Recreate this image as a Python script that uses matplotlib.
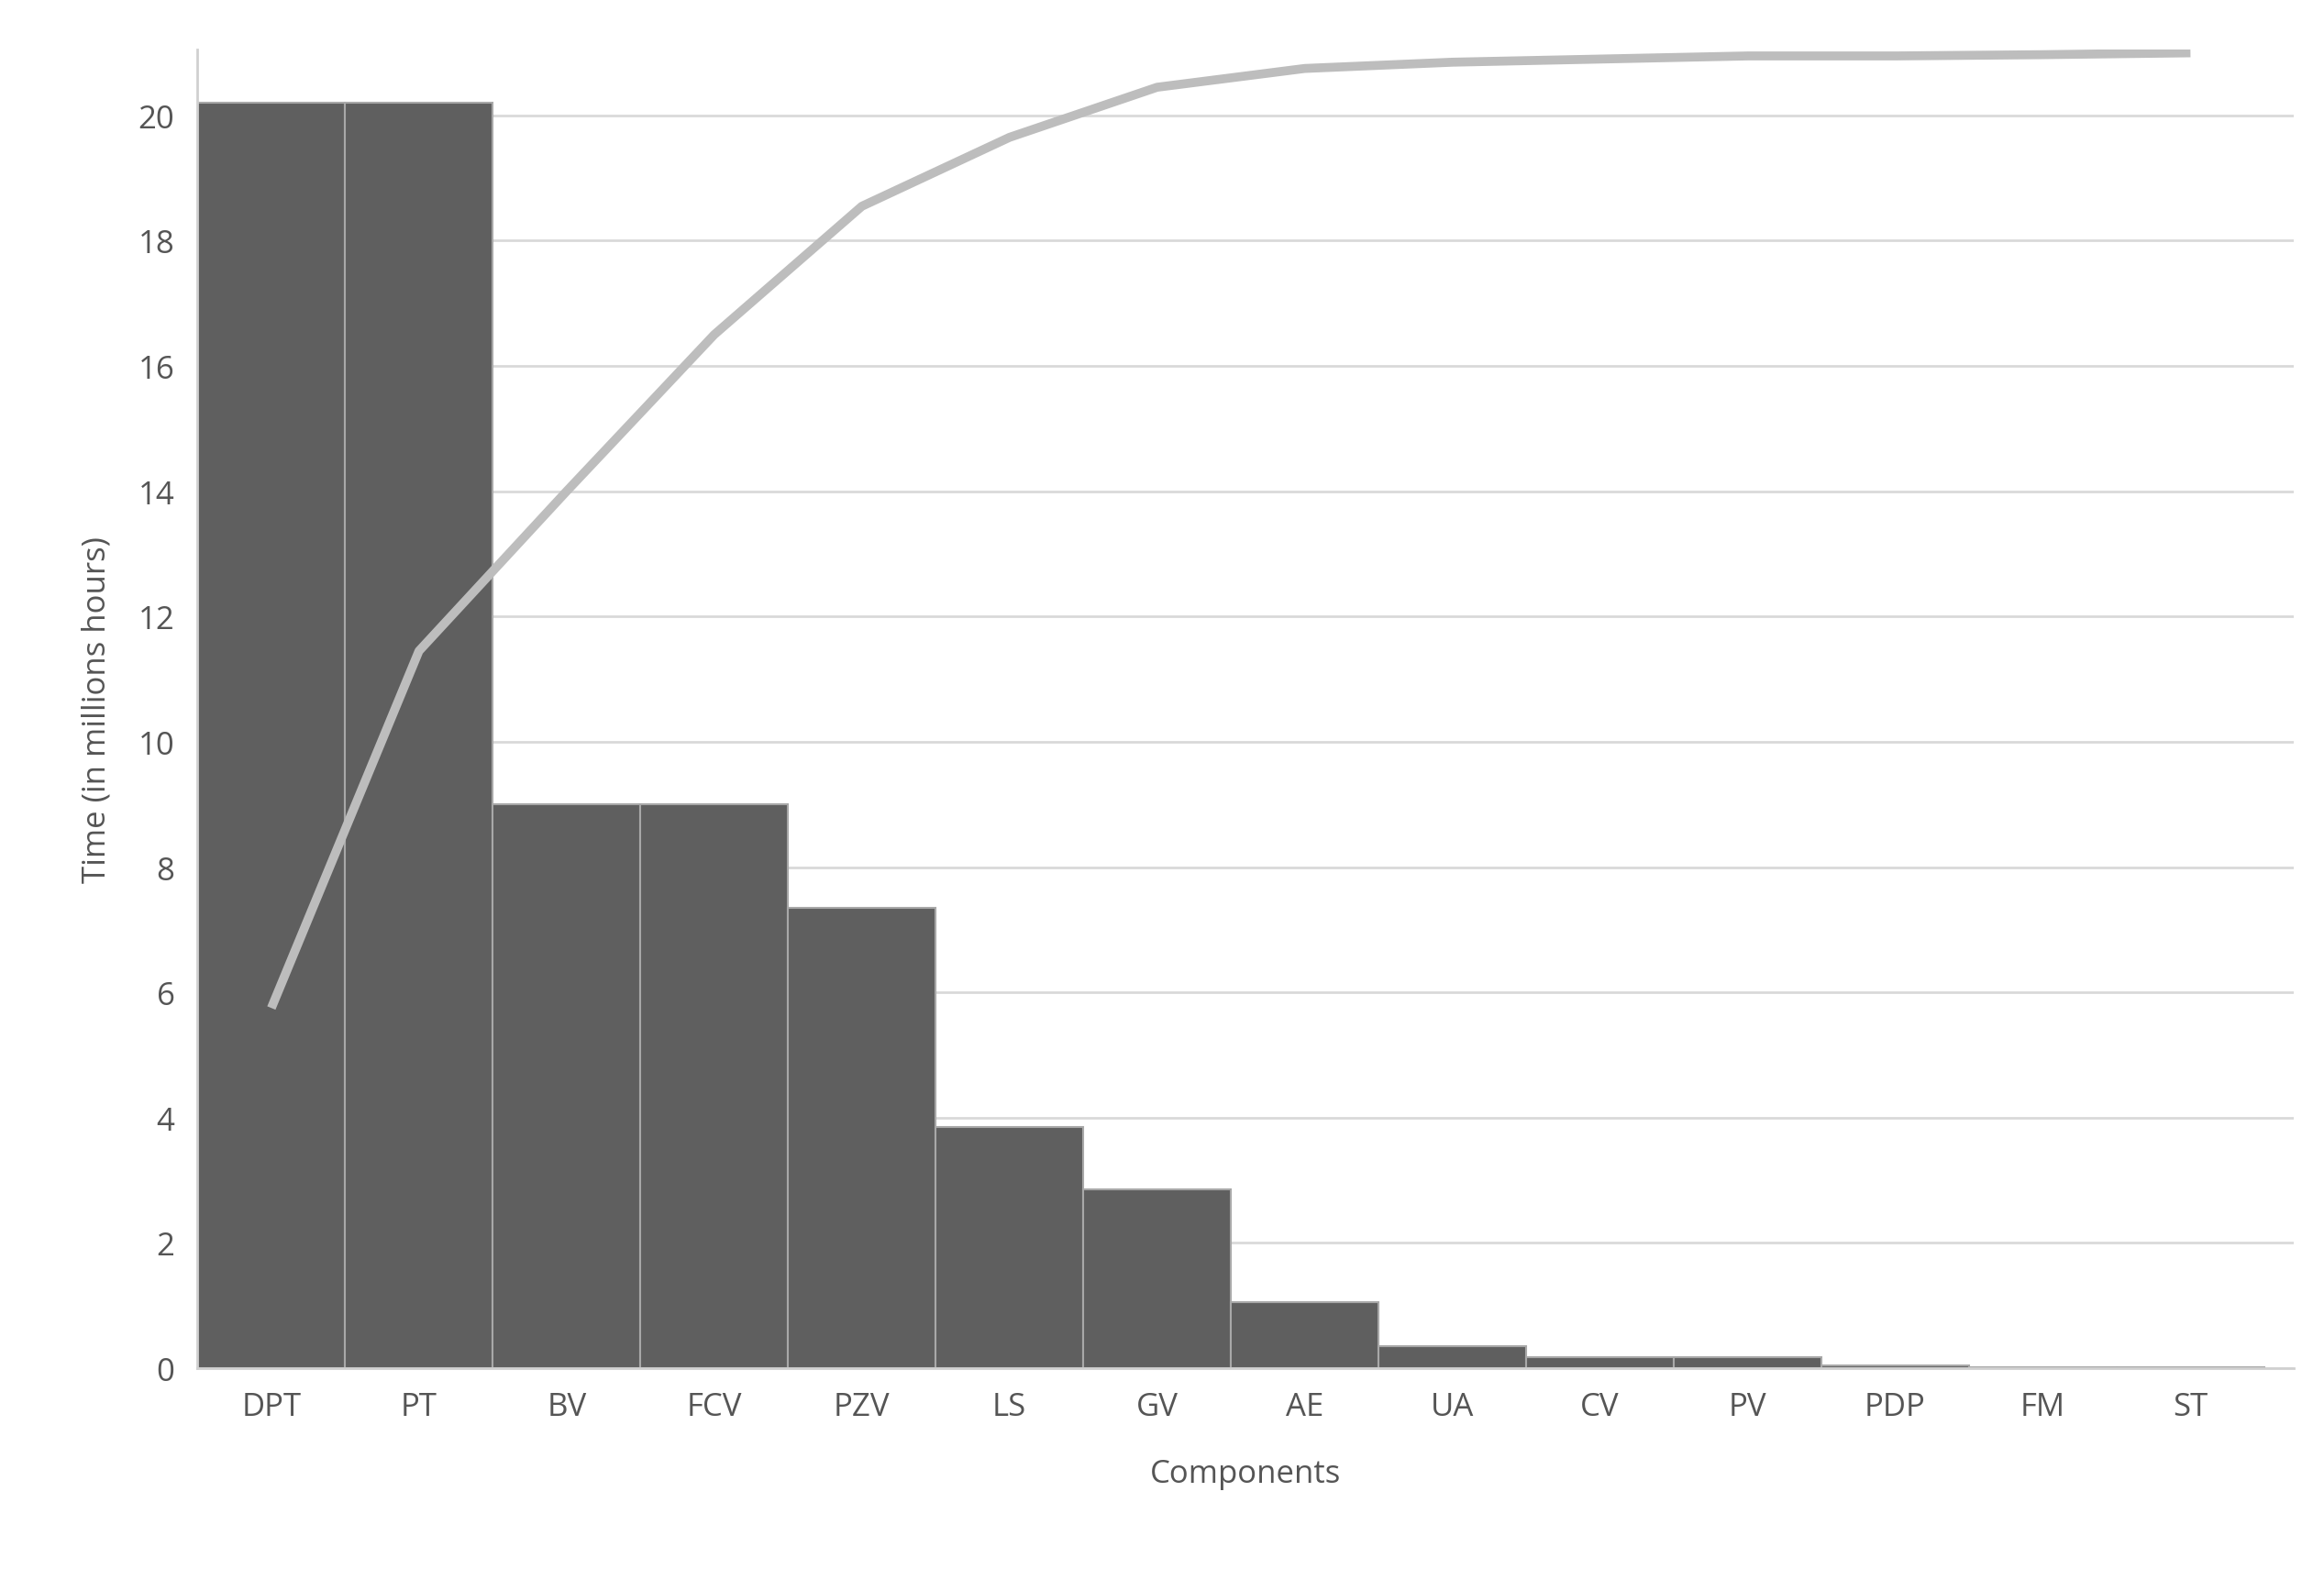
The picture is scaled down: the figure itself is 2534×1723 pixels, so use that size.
import matplotlib
matplotlib.use("Agg")
import matplotlib.pyplot as plt

categories = ["DPT","PT","BV","FCV","PZV","LS","GV","AE","UA","CV","PV","PDP","FM","ST"]
bar_values = [20.2,20.2,9.0,9.0,7.35,3.85,2.85,1.05,0.35,0.18,0.18,0.05,0.02,0.01]
line_values = [5.75,11.45,14.0,16.5,18.55,19.65,20.45,20.75,20.85,20.9,20.95,20.95,20.97,21.0]
yticks = [0,2,4,6,8,10,12,14,16,18,20]

plt.rcParams['font.family'] = ['Open Sans', 'DejaVu Sans']
fig = plt.figure(figsize=(25.34,17.24), dpi=100)
ax = fig.add_axes([0.085,0.134,0.902,0.834])
x = list(range(len(categories)))
ax.bar(x, bar_values, width=1.0, color="#5f5f5f", edgecolor="#a8a8a8", linewidth=1.5, zorder=2)
ax.plot(x, line_values, color="#bdbdbd", linewidth=7, solid_capstyle="butt", zorder=3)
ax.set_xlim(-0.5, len(categories)-0.5 + 0.2)
ax.set_ylim(0, 21.05)
ax.set_yticks(yticks)
ax.set_xticks(x)
ax.set_xticklabels(categories)
ax.yaxis.grid(True, color="#d9d9d9", linewidth=2, zorder=0)
ax.set_axisbelow(True)
for s in ["top","right"]:
    ax.spines[s].set_visible(False)
for s in ["left","bottom"]:
    ax.spines[s].set_color("#d0d0d0")
    ax.spines[s].set_linewidth(2)
ax.tick_params(axis="both", length=0, labelsize=25, colors="#555555", pad=18)
ax.set_xlabel("Components", fontsize=25, color="#555555", labelpad=28)
ax.set_ylabel("Time (in millions hours)", fontsize=25, color="#555555", labelpad=20)
fig.savefig("out.png", dpi=100, facecolor="white")
